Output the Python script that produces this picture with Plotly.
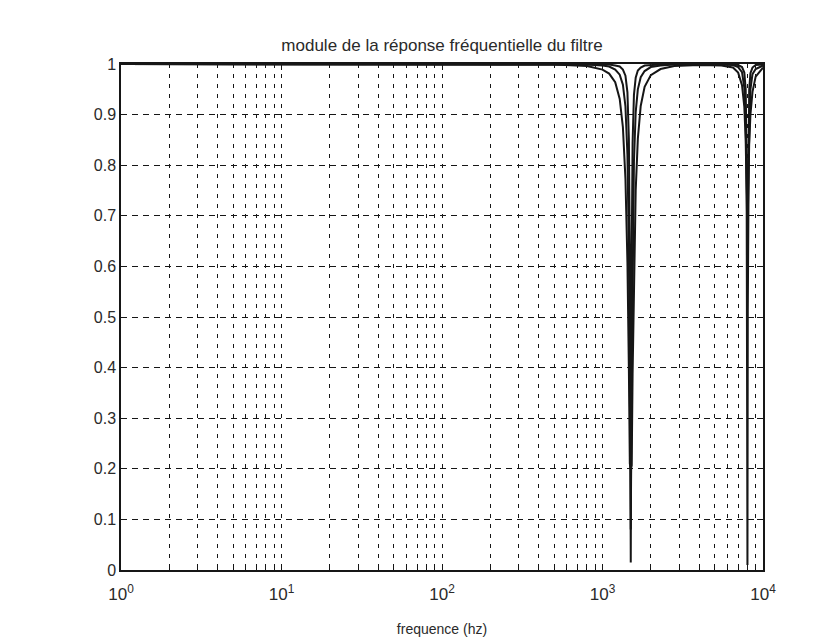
import plotly.graph_objects as go

# Frequency grid (Hz) shared by the three response curves
freq_hz = [1, 100, 500, 800, 1000, 1100, 1200, 1280, 1340, 1390, 1430, 1460, 1480,
           1500, 1520, 1540, 1570, 1610, 1660, 1730, 1830, 2000, 2300, 2800, 4000,
           5500, 6500, 7000, 7400, 7650, 7800, 7900, 7960, 8000, 8040, 8100, 8200,
           8350, 8600, 9000, 10000]

# |H(f)| for the three filter settings (wide, medium, narrow notches)
mag_wide = [1.000, 1.000, 0.999, 0.996, 0.989, 0.981, 0.964, 0.931, 0.875, 0.773, 0.608,
            0.397, 0.210, 0.200, 0.207, 0.388, 0.590, 0.750, 0.852, 0.917, 0.955, 0.978,
            0.990, 0.996, 0.998, 0.997, 0.993, 0.983, 0.958, 0.915, 0.850, 0.770, 0.700,
            0.660, 0.700, 0.760, 0.840, 0.900, 0.945, 0.975, 0.993]
mag_medium = [1.000, 1.000, 1.000, 0.999, 0.997, 0.995, 0.989, 0.979, 0.959, 0.916, 0.821,
              0.630, 0.374, 0.080, 0.369, 0.620, 0.807, 0.905, 0.950, 0.974, 0.986, 0.994,
              0.997, 0.999, 1.000, 0.999, 0.998, 0.994, 0.984, 0.953, 0.880, 0.780, 0.720,
              0.700, 0.720, 0.790, 0.880, 0.950, 0.980, 0.990, 0.997]
mag_narrow = [1.000, 1.000, 1.000, 1.000, 0.999, 0.999, 0.997, 0.995, 0.989, 0.977, 0.944,
              0.851, 0.627, 0.015, 0.622, 0.845, 0.939, 0.973, 0.987, 0.993, 0.997, 0.998,
              0.999, 1.000, 1.000, 1.000, 0.999, 0.998, 0.994, 0.983, 0.950, 0.834, 0.515,
              0.010, 0.514, 0.831, 0.948, 0.982, 0.993, 0.998, 0.999]

x_tick_vals = [1, 10, 100, 1000, 10000]
x_tick_text = ["10<sup>0</sup>", "10<sup>1</sup>", "10<sup>2</sup>", "10<sup>3</sup>", "10<sup>4</sup>"]
y_tick_vals = [0, 0.1, 0.2, 0.3, 0.4, 0.5, 0.6, 0.7, 0.8, 0.9, 1]
y_tick_text = ["0", "0.1", "0.2", "0.3", "0.4", "0.5", "0.6", "0.7", "0.8", "0.9", "1"]

ink = "#161616"
text_col = "#2a2a2a"
font_family = "Liberation Sans, Arial, sans-serif"

fig = go.Figure()
for series in (mag_wide, mag_medium, mag_narrow):
    fig.add_trace(go.Scatter(
        x=freq_hz, y=series, mode="lines",
        line=dict(color=ink, width=2),
        showlegend=False, hoverinfo="x+y",
    ))

# minor log grid positions 2..9 x 10^k
minor_vals = [m * 10 ** e for e in range(4) for m in range(2, 10)]

fig.update_layout(
    width=821, height=641,
    margin=dict(l=121, r=58, t=64, b=71),
    paper_bgcolor="white", plot_bgcolor="white",
    font=dict(family=font_family, color=text_col, size=15),
    title=dict(
        text="module de la réponse fréquentielle du filtre",
        x=0.5, xref="paper", xanchor="center",
        y=1 - 45 / 641, yref="container", yanchor="middle",
        font=dict(size=17, color=text_col, family=font_family),
    ),
)

fig.update_xaxes(
    type="log", range=[0, 4], automargin=False,
    tickmode="array", tickvals=x_tick_vals, ticktext=x_tick_text,
    tickfont=dict(size=17, color=text_col),
    ticks="inside", ticklen=6, tickcolor=ink,
    ticklabelstandoff=8,
    showline=True, linecolor=ink, linewidth=1.5, mirror="ticks",
    showgrid=True, gridcolor=ink, gridwidth=1, griddash="4px,6px",
    minor=dict(tickmode="array", tickvals=minor_vals, ticks="inside", ticklen=4,
               tickcolor=ink, showgrid=True, gridcolor=ink, gridwidth=1,
               griddash="4px,6px"),
    title=dict(text="frequence (hz)", font=dict(size=14, color=text_col), standoff=21),
    zeroline=False,
)

fig.update_yaxes(
    range=[0, 1], automargin=False,
    tickmode="array", tickvals=y_tick_vals, ticktext=y_tick_text,
    tickfont=dict(size=16, color=text_col),
    ticks="inside", ticklen=6, tickcolor=ink,
    showline=True, linecolor=ink, linewidth=1.5, mirror="ticks",
    showgrid=True, gridcolor=ink, gridwidth=1, griddash="6px,5px",
    zeroline=False,
)

fig.write_html("out.html")
